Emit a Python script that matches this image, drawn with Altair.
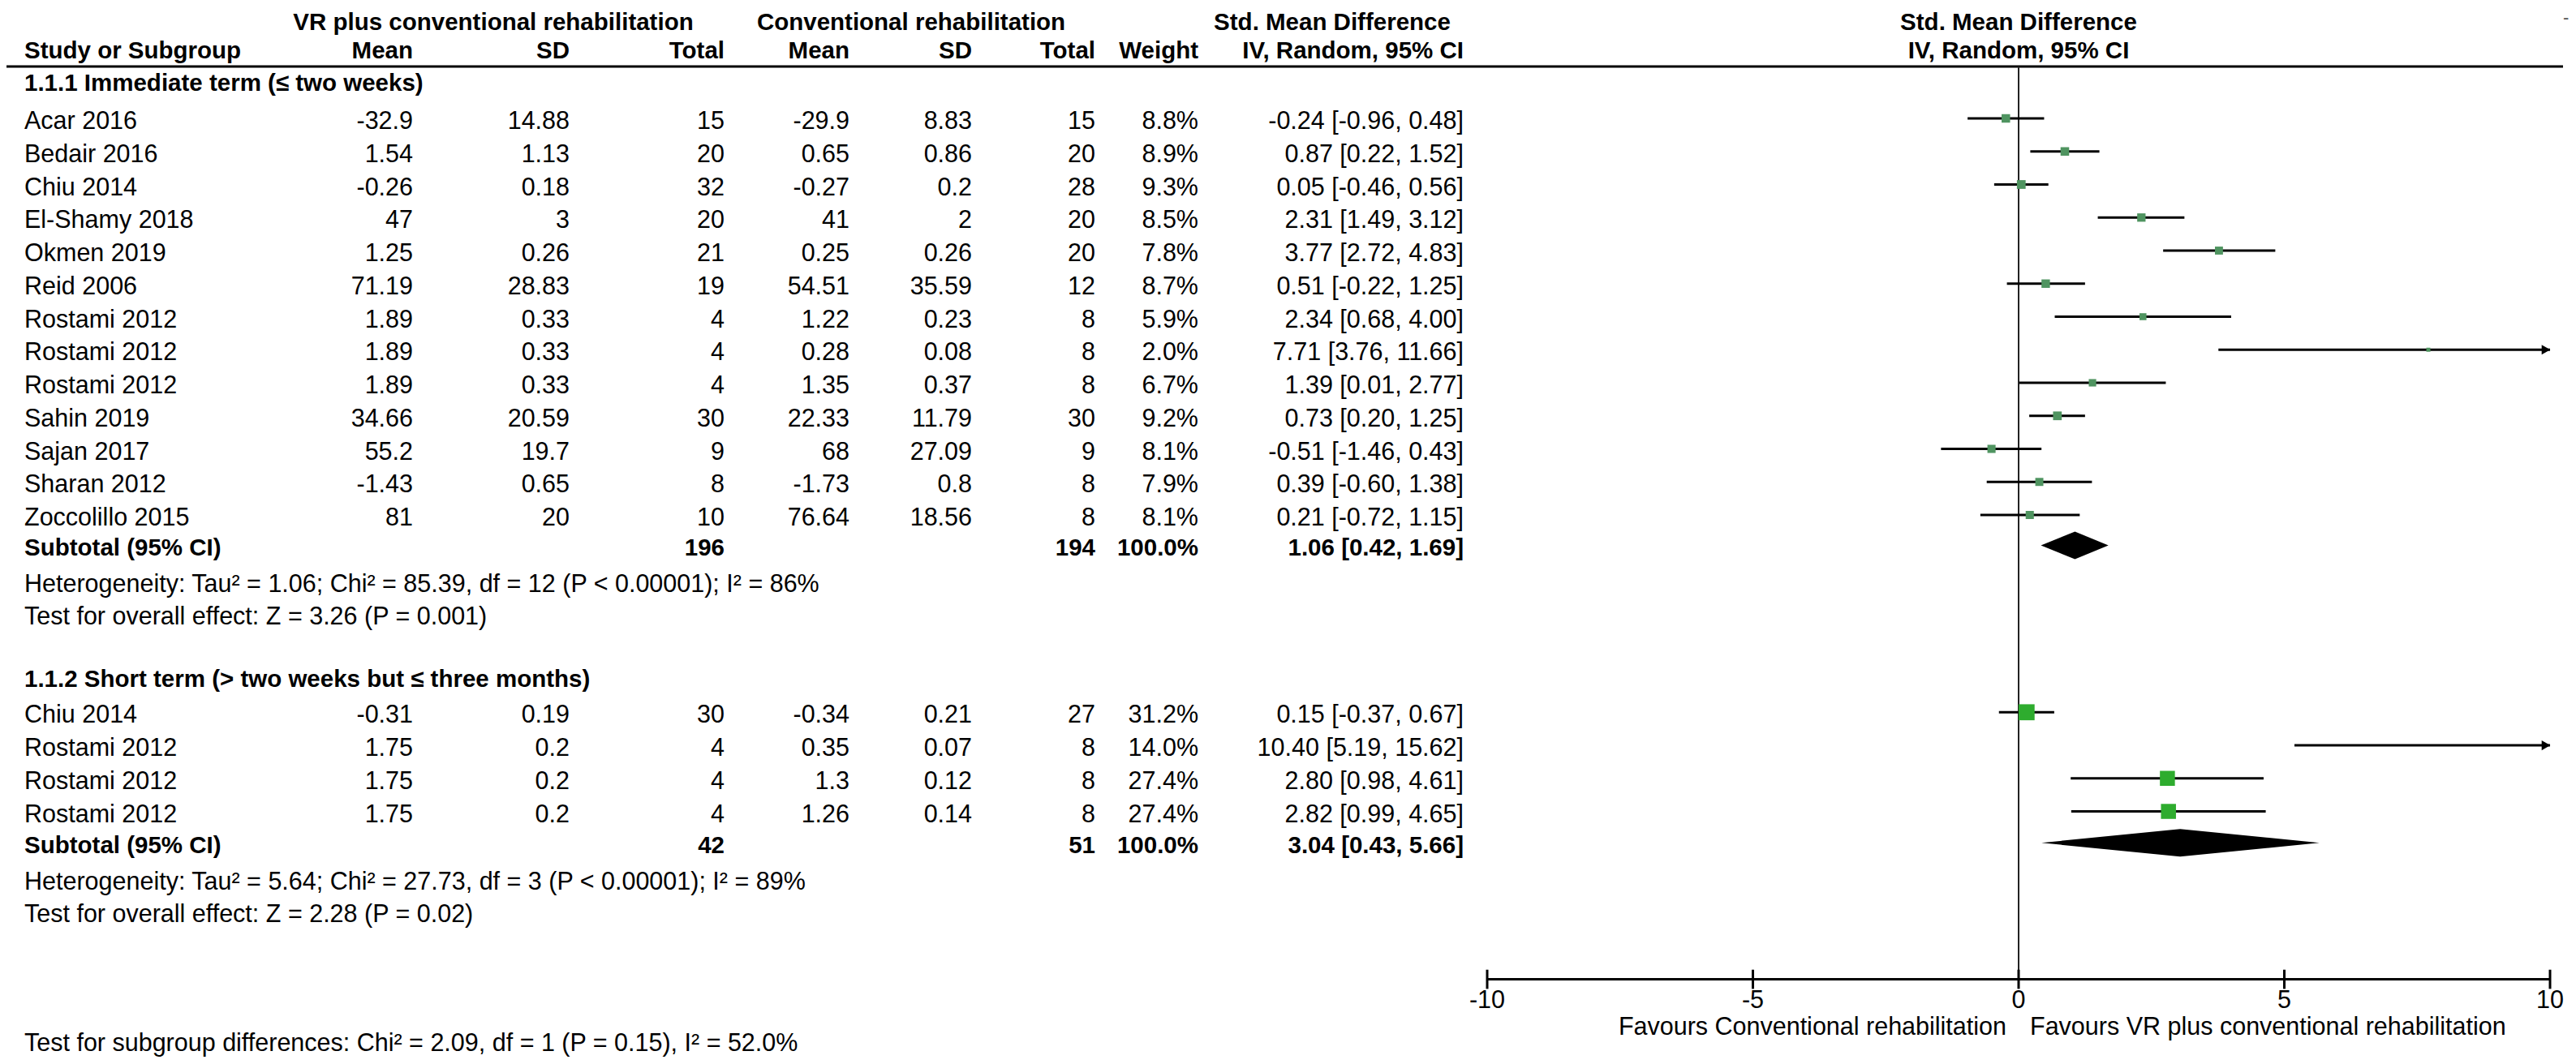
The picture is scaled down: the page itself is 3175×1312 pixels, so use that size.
import altair as alt
import pandas as pd

# ---------------- data ----------------
studies1 = ["Acar 2016", "Bedair 2016", "Chiu 2014", "El-Shamy 2018", "Okmen 2019", "Reid 2006",
            "Rostami 2012", "Rostami 2012", "Rostami 2012", "Sahin 2019", "Sajan 2017",
            "Sharan 2012", "Zoccolillo 2015"]
vr_mean1 = [-32.9, 1.54, -0.26, 47, 1.25, 71.19, 1.89, 1.89, 1.89, 34.66, 55.2, -1.43, 81]
vr_sd1 = [14.88, 1.13, 0.18, 3, 0.26, 28.83, 0.33, 0.33, 0.33, 20.59, 19.7, 0.65, 20]
vr_n1 = [15, 20, 32, 20, 21, 19, 4, 4, 4, 30, 9, 8, 10]
c_mean1 = [-29.9, 0.65, -0.27, 41, 0.25, 54.51, 1.22, 0.28, 1.35, 22.33, 68, -1.73, 76.64]
c_sd1 = [8.83, 0.86, 0.2, 2, 0.26, 35.59, 0.23, 0.08, 0.37, 11.79, 27.09, 0.8, 18.56]
c_n1 = [15, 20, 28, 20, 20, 12, 8, 8, 8, 30, 9, 8, 8]
weight1 = [8.8, 8.9, 9.3, 8.5, 7.8, 8.7, 5.9, 2.0, 6.7, 9.2, 8.1, 7.9, 8.1]
smd1 = [-0.24, 0.87, 0.05, 2.31, 3.77, 0.51, 2.34, 7.71, 1.39, 0.73, -0.51, 0.39, 0.21]
lo1 = [-0.96, 0.22, -0.46, 1.49, 2.72, -0.22, 0.68, 3.76, 0.01, 0.20, -1.46, -0.60, -0.72]
hi1 = [0.48, 1.52, 0.56, 3.12, 4.83, 1.25, 4.00, 11.66, 2.77, 1.25, 0.43, 1.38, 1.15]

studies2 = ["Chiu 2014", "Rostami 2012", "Rostami 2012", "Rostami 2012"]
vr_mean2 = [-0.31, 1.75, 1.75, 1.75]
vr_sd2 = [0.19, 0.2, 0.2, 0.2]
vr_n2 = [30, 4, 4, 4]
c_mean2 = [-0.34, 0.35, 1.3, 1.26]
c_sd2 = [0.21, 0.07, 0.12, 0.14]
c_n2 = [27, 8, 8, 8]
weight2 = [31.2, 14.0, 27.4, 27.4]
smd2 = [0.15, 10.40, 2.80, 2.82]
lo2 = [-0.37, 5.19, 0.98, 0.99]
hi2 = [0.67, 15.62, 4.61, 4.65]

sub_vr_n = [196, 42]
sub_c_n = [194, 51]
sub_est = [1.06, 3.04]
sub_lo = [0.42, 0.43]
sub_hi = [1.69, 5.66]

group_titles = ["1.1.1 Immediate term (\u2264 two weeks)",
                "1.1.2 Short term (> two weeks but \u2264 three months)"]
heterogeneity = ["Heterogeneity: Tau\u00b2 = 1.06; Chi\u00b2 = 85.39, df = 12 (P < 0.00001); I\u00b2 = 86%",
                 "Heterogeneity: Tau\u00b2 = 5.64; Chi\u00b2 = 27.73, df = 3 (P < 0.00001); I\u00b2 = 89%"]
overall = ["Test for overall effect: Z = 3.26 (P = 0.001)",
           "Test for overall effect: Z = 2.28 (P = 0.02)"]
subgroup_test = "Test for subgroup differences: Chi\u00b2 = 2.09, df = 1 (P = 0.15), I\u00b2 = 52.0%"
ticks = [-10, -5, 0, 5, 10]
favours = ["Favours Conventional rehabilitation", "Favours VR plus conventional rehabilitation"]

# ---------------- layout ----------------
FONT = "Liberation Sans, Arial, Helvetica, sans-serif"
FS_BOLD = 29.5
FS_NORM = 30.5
W, H = 3159, 1296
Y0, STEP, NR = 15.75, 40.75, 32
YS = alt.Scale(domain=[0, NR], range=[Y0, Y0 + NR * STEP])
XF = alt.Scale(domain=[-10, 10], range=[1825, 3135])
XP = alt.Scale(domain=[0, W], range=[0, W])
COLX = dict(study=22, vm=501, vsd=694, vn=885, cm=1039, csd=1190, cn=1342, w=1469,
            ci=1796, vhdr=600, chdr=1115, smd=1634)
ROW = dict(h1=0.0, h2=0.865, hline=1.43, g1=1.85, first1=3.0, sub1=15.92, het1=17.0, oe1=18.0,
           g2=19.88, first2=20.97, sub2=24.92, het2=26.02, oe2=27.0, axis=29.05, ticklab=29.6,
           fav=30.4, sgt=30.9, dash=-0.15)
DIA_H = 0.42
TICK_H = 0.29


def fmt(v):
    return f"{v:g}"


def ci(e, l, h):
    return f"{e:.2f} [{l:.2f}, {h:.2f}]"


cells = []


def add(r, key, text, align="right", bold=False):
    cells.append(dict(row=float(r), px=float(COLX[key]), label=str(text),
                      style=align + ("-bold" if bold else "-normal")))


# headers
add(ROW["h1"], "vhdr", "VR plus conventional rehabilitation", "center", True)
add(ROW["h1"], "chdr", "Conventional rehabilitation", "center", True)
add(ROW["h1"], "smd", "Std. Mean Difference", "center", True)
add(ROW["h2"], "study", "Study or Subgroup", "left", True)
for k, lab in [("vm", "Mean"), ("vsd", "SD"), ("vn", "Total"), ("cm", "Mean"), ("csd", "SD"),
               ("cn", "Total"), ("w", "Weight"), ("ci", "IV, Random, 95% CI")]:
    add(ROW["h2"], k, lab, "right", True)

groups = [
    (studies1, vr_mean1, vr_sd1, vr_n1, c_mean1, c_sd1, c_n1, weight1, smd1, lo1, hi1),
    (studies2, vr_mean2, vr_sd2, vr_n2, c_mean2, c_sd2, c_n2, weight2, smd2, lo2, hi2),
]
forest = []
diamonds = []
for gi, g in enumerate(groups):
    s, vm, vsd, vn, cm, csd, cn, w, e, l, h = g
    tag = str(gi + 1)
    add(ROW["g" + tag], "study", group_titles[gi], "left", True)
    for i in range(len(s)):
        r = ROW["first" + tag] + i
        add(r, "study", s[i], "left")
        add(r, "vm", fmt(vm[i]))
        add(r, "vsd", fmt(vsd[i]))
        add(r, "vn", vn[i])
        add(r, "cm", fmt(cm[i]))
        add(r, "csd", fmt(csd[i]))
        add(r, "cn", cn[i])
        add(r, "w", f"{w[i]:.1f}%")
        add(r, "ci", ci(e[i], l[i], h[i]))
        forest.append(dict(r=r, est=e[i], lo=max(l[i], -10), hi=min(h[i], 10), w=w[i],
                           over=int(h[i] > 10), shown=int(-10 <= e[i] <= 10)))
    rs = ROW["sub" + tag]
    add(rs, "study", "Subtotal (95% CI)", "left", True)
    add(rs, "vn", sub_vr_n[gi], "right", True)
    add(rs, "cn", sub_c_n[gi], "right", True)
    add(rs, "w", "100.0%", "right", True)
    add(rs, "ci", ci(sub_est[gi], sub_lo[gi], sub_hi[gi]), "right", True)
    add(ROW["het" + tag], "study", heterogeneity[gi], "left")
    add(ROW["oe" + tag], "study", overall[gi], "left")
    for xv, hh in [(sub_lo[gi], 0.0), (sub_est[gi], DIA_H), (sub_hi[gi], 0.0)]:
        diamonds.append(dict(g=tag, x=xv, ytop=rs - hh, ybot=rs + hh))
add(ROW["sgt"], "study", subgroup_test, "left")

cells = pd.DataFrame(cells)
forest = pd.DataFrame(forest)
diamonds = pd.DataFrame(diamonds)

Y = alt.Y("r:Q", scale=YS, axis=None)
layers = []

# table text
base_cells = alt.Chart(cells)
for a in ["left", "right", "center"]:
    for b in ["normal", "bold"]:
        layers.append(base_cells.transform_filter(
            alt.datum.style == f"{a}-{b}"
        ).mark_text(
            align=a, baseline="middle", font=FONT,
            fontSize=FS_BOLD if b == "bold" else FS_NORM, dy=4,
            fontWeight=b, color="black"
        ).encode(x=alt.X("px:Q", scale=XP, axis=None),
                 y=alt.Y("row:Q", scale=YS, axis=None), text="label:N"))

# header line
hl = pd.DataFrame([dict(x1=0, x2=3151, r=ROW["hline"])])
layers.append(alt.Chart(hl).mark_rule(color="black", strokeWidth=3).encode(
    x=alt.X("x1:Q", scale=XP, axis=None), x2="x2:Q", y=Y))

# forest: zero line
zl = pd.DataFrame([dict(x=0, r=ROW["hline"], r2=ROW["axis"])])
layers.append(alt.Chart(zl).mark_rule(color="#222222", strokeWidth=2).encode(
    x=alt.X("x:Q", scale=XF, axis=None), y=Y, y2="r2:Q"))

# CI lines
layers.append(alt.Chart(forest).mark_rule(color="black", strokeWidth=3).encode(
    x=alt.X("lo:Q", scale=XF, axis=None), x2="hi:Q", y=Y))
# arrow heads
layers.append(alt.Chart(forest[forest.over == 1]).mark_point(
    shape="triangle-right", filled=True, color="black", size=150, opacity=1, xOffset=-5
).encode(x=alt.X("hi:Q", scale=XF, axis=None), y=Y))
# squares
layers.append(alt.Chart(forest[forest.shown == 1]).mark_square(opacity=1).encode(
    x=alt.X("est:Q", scale=XF, axis=None), y=Y,
    size=alt.Size("w:Q", scale=alt.Scale(domain=[0, 100], range=[0, 1250]), legend=None),
    color=alt.condition("datum.w < 10", alt.value("#4f9460"), alt.value("#2eac2e"))))
# diamonds
layers.append(alt.Chart(diamonds).mark_area(color="black", orient="vertical", opacity=1).encode(
    x=alt.X("x:Q", scale=XF, axis=None),
    y=alt.Y("ytop:Q", scale=YS, axis=None), y2="ybot:Q", detail="g:N"))

# axis
ax = pd.DataFrame([dict(a=-10, b=10, r=ROW["axis"])])
layers.append(alt.Chart(ax).mark_rule(color="black", strokeWidth=3).encode(
    x=alt.X("a:Q", scale=XF, axis=None), x2="b:Q", y=Y))
tk = pd.DataFrame(dict(t=ticks, r=[ROW["axis"] - TICK_H] * 5, r2=[ROW["axis"] + TICK_H] * 5,
                       rl=[ROW["ticklab"]] * 5, lab=[str(t) for t in ticks]))
layers.append(alt.Chart(tk).mark_rule(color="black", strokeWidth=3).encode(
    x=alt.X("t:Q", scale=XF, axis=None), y=Y, y2="r2:Q"))
layers.append(alt.Chart(tk).mark_text(font=FONT, fontSize=FS_NORM, baseline="middle", dy=4,
                                      color="black").encode(
    x=alt.X("t:Q", scale=XF, axis=None), y=alt.Y("rl:Q", scale=YS, axis=None), text="lab:N"))

# forest headers + favours labels
fh = pd.DataFrame([dict(x=0, r=ROW["h1"], t="Std. Mean Difference"),
                   dict(x=0, r=ROW["h2"], t="IV, Random, 95% CI")])
layers.append(alt.Chart(fh).mark_text(font=FONT, fontSize=FS_BOLD, fontWeight="bold",
                                      baseline="middle", dy=4, color="black").encode(
    x=alt.X("x:Q", scale=XF, axis=None), y=Y, text="t:N"))
fl = pd.DataFrame([dict(x=0, r=ROW["fav"], t=favours[0])])
fr = pd.DataFrame([dict(x=0, r=ROW["fav"], t=favours[1])])
layers.append(alt.Chart(fl).mark_text(font=FONT, fontSize=FS_NORM, align="right", baseline="middle",
                                      dx=-15, dy=4, color="black").encode(
    x=alt.X("x:Q", scale=XF, axis=None), y=Y, text="t:N"))
layers.append(alt.Chart(fr).mark_text(font=FONT, fontSize=FS_NORM, align="left", baseline="middle",
                                      dx=14, dy=4, color="black").encode(
    x=alt.X("x:Q", scale=XF, axis=None), y=Y, text="t:N"))
# stray dash at top right of the original
dash = pd.DataFrame([dict(x=10.3, r=ROW["dash"], t="-")])
layers.append(alt.Chart(dash).mark_text(font=FONT, fontSize=22, baseline="middle", dy=4,
                                        color="#555555").encode(
    x=alt.X("x:Q", scale=XF, axis=None), y=Y, text="t:N"))

chart = alt.layer(*layers).resolve_scale(x="independent").properties(
    width=W, height=H, padding=0, autosize=alt.AutoSizeParams(type="none"),
    background="white"
).configure_view(stroke=None)

chart.save("out.html", embed_options={"renderer": "svg", "actions": False})
